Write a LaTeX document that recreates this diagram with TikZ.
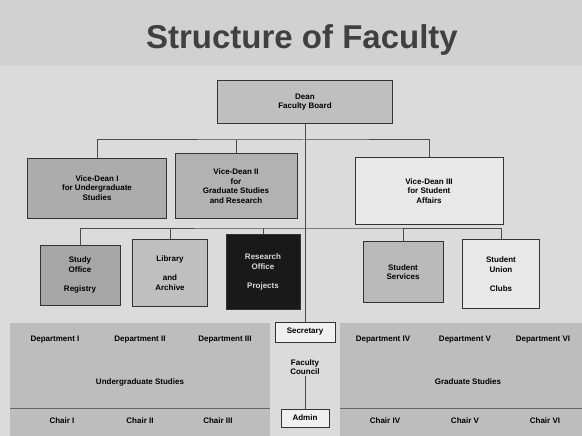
\documentclass[tikz,border=0pt]{standalone}
\usepackage{fontspec}
\setmainfont{Liberation Sans}
\usetikzlibrary{positioning}
\begin{document}
\begin{tikzpicture}[x=1pt,y=-1pt]
\tikzstyle{unit} = [draw=black!80, align=center, font=\footnotesize\bfseries, inner sep=2pt] % box style
\tikzstyle{lbl} = [align=center, font=\footnotesize\bfseries, inner sep=1pt] % plain text in the bands
\tikzstyle{link} = [draw=black!70, line width=1pt] % connector style
% background and title
\useasboundingbox (0,0) rectangle (582,436);
\fill[gray!28] (0,0) rectangle (582,436);
\fill[gray!36] (0,0) rectangle (582,66);
\node[font=\fontsize{33}{36}\selectfont\bfseries, text=black!75] (title) at (302,40) {Structure of Faculty};
% dean and vice-deans
\node[unit, fill=gray!50, minimum width=175, minimum height=43] (dean) at (305,102) {Dean\\Faculty Board};
\node[unit, fill=gray!65, minimum width=139, minimum height=60] (vd1) at (97,188) {Vice-Dean I\\for Undergraduate\\Studies};
\node[unit, fill=gray!60, minimum width=122, minimum height=65] (vd2) at (236,186) {Vice-Dean II\\for\\Graduate Studies\\and Research};
\node[unit, fill=gray!18, minimum width=148, minimum height=67] (vd3) at (429,191) {Vice-Dean III\\for Student\\Affairs};
% offices
\node[unit, fill=gray!70, minimum width=80, minimum height=60] (off1) at (80,275) {Study\\Office\\\\Registry};
\node[unit, fill=gray!50, minimum width=75, minimum height=67] (off2) at (170,273) {Library\\\\and\\Archive};
\node[unit, fill=black!90, text=gray!30, minimum width=74, minimum height=75] (off3) at (263,272) {Research\\Office\\\\Projects};
\node[unit, fill=gray!55, minimum width=80, minimum height=61] (off4) at (403,272) {Student\\Services};
\node[unit, fill=gray!18, minimum width=77, minimum height=69] (off5) at (501,274) {Student\\Union\\\\Clubs};
% departments
\fill[gray!52] (10,323) rectangle (270,436);
\fill[gray!52] (340,323) rectangle (582,436);
\draw[black!60] (10,408) -- (270,408) (340,408) -- (582,408);
\node[lbl] (dep1) at (55,340) {Department I};
\node[lbl] (dep2) at (140,340) {Department II};
\node[lbl] (dep3) at (225,340) {Department III};
\node[lbl] (ug) at (140,382) {Undergraduate Studies};
\node[lbl] (ch1) at (62,421) {Chair I};
\node[lbl] (ch2) at (140,421) {Chair II};
\node[lbl] (ch3) at (218,421) {Chair III};
\node[lbl] (dep4) at (383,340) {Department IV};
\node[lbl] (dep5) at (465,340) {Department V};
\node[lbl] (dep6) at (543,340) {Department VI};
\node[lbl] (gr) at (468,382) {Graduate Studies};
\node[lbl] (ch4) at (385,421) {Chair IV};
\node[lbl] (ch5) at (465,421) {Chair V};
\node[lbl] (ch6) at (545,421) {Chair VI};
% secretariat in the middle
\node[unit, fill=gray!12, minimum width=60, minimum height=20] (sec) at (305,332) {Secretary};
\node[lbl] (fc) at (305,367) {Faculty\\Council};
\node[unit, fill=gray!12, minimum width=48, minimum height=18] (adm) at (305,418) {Admin};
% connectors
\coordinate (bus1) at (305,140);
\coordinate (bus2) at (305,228);
\draw[link] (dean) -- (sec);
\draw[link] (vd1) |- (bus1) -| (vd3);
\draw[link] (vd2) -- (vd2 |- bus1);
\draw[link] (off1) |- (bus2) -| (off5);
\draw[link] (off2) -- (off2 |- bus2);
\draw[link] (off3) -- (off3 |- bus2);
\draw[link] (off4) -- (off4 |- bus2);
\draw[link] (fc) -- (adm);
\end{tikzpicture}
\end{document}
